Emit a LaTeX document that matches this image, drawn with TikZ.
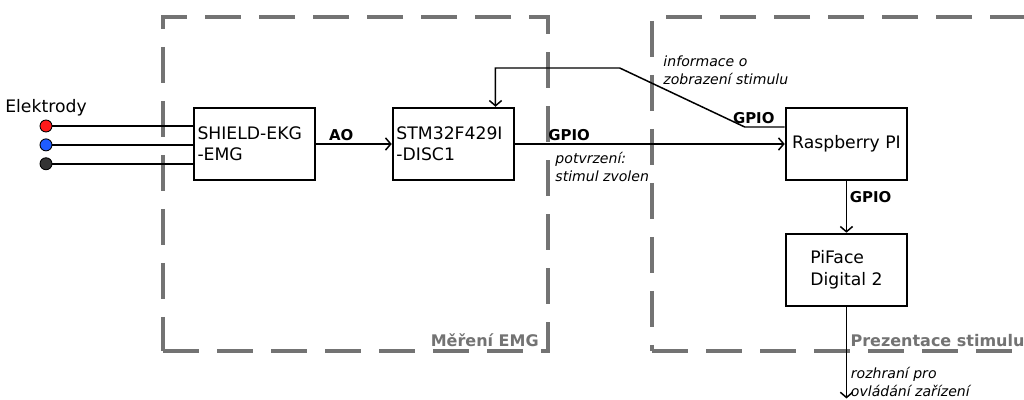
\documentclass[tikz,border=0pt]{standalone}
\usepackage{fontspec}
\setmainfont{DejaVu Sans}
\usetikzlibrary{positioning}
\usetikzlibrary{arrows.meta}
\usetikzlibrary{calc}

\definecolor{grp}{HTML}{737373}
\definecolor{elred}{HTML}{FF1A1A}
\definecolor{elblue}{HTML}{1F5CFF}
\definecolor{eldark}{HTML}{333333}

\begin{document}
\begin{tikzpicture}[
    font=\fontsize{9.8}{12.2}\selectfont,
    block/.style={rectangle, draw=black, line width=1.4pt, minimum width=2.42cm, minimum height=1.44cm, inner sep=2pt},
    group/.style={rectangle, draw=grp, line width=2.3pt, dash pattern=on 0.72cm off 0.36cm, minimum width=7.7cm, minimum height=6.68cm},
    grplbl/.style={text=grp, font=\fontsize{9.1}{11}\selectfont\bfseries, inner sep=1pt},
    pin/.style={circle, draw=black, line width=0.5pt, minimum size=0.24cm, inner sep=0pt},
    arr/.style={-{Straight Barb[length=3pt,width=7pt]}, line width=0.85pt},
    wire/.style={line width=0.85pt},
    sig/.style={font=\fontsize{8.5}{10}\selectfont\bfseries, inner sep=1.5pt},
    lbl/.style={font=\fontsize{8}{10.2}\selectfont\itshape, align=left, inner sep=1pt}
]
\useasboundingbox (0,0) rectangle (20.48,-8);

% skupiny
\node[group] (mer) at (7.11,-3.68) {};
\node[group, minimum width=7.96cm] (prez) at (17.02,-3.68) {};
\node[grplbl, anchor=base east] (merlbl) at ([xshift=-0.185cm, yshift=0.14cm]mer.south east) {Měření EMG};
\node[grplbl, anchor=base west] (prezlbl) at ([xshift=3.97cm, yshift=0.14cm]prez.south west) {Prezentace stimulu};

% bloky
\node[block, text width=2.28cm, align=left] (shield) at (5.09,-2.88) {SHIELD-EKG\\-EMG};
\node[block, text width=2.28cm, align=left, right=1.51cm of shield] (stm) {STM32F429I\\-DISC1};
\node[block, align=center, right=5.39cm of stm] (rpi) {Raspberry PI};
\node[block, align=left, below=1.03cm of rpi] (piface) {PiFace\\Digital 2};

% elektrody
\node[pin, fill=elred] (e1) at (0.92,-2.52) {};
\node[pin, fill=elblue, below=0.12cm of e1] (e2) {};
\node[pin, fill=eldark, below=0.12cm of e2] (e3) {};
\node[above=-0.06cm of e1] (elk) {Elektrody};

\draw[wire] (e1) -- (e1 -| shield.west);
\draw[wire] (e2) -- (e2 -| shield.west);
\draw[wire] (e3) -- (e3 -| shield.west);

% signaly
\draw[arr] (shield) -- node[sig, above, pos=0.33] {AO} (stm);
\draw[arr] (stm) -- node[sig, above, pos=0.2] {GPIO}
    node[lbl, below right, pos=0.14, yshift=-0.12cm] {potvrzení:\\stimul zvolen} (rpi);
\draw[arr] ([yshift=0.34cm]rpi.west) -- node[sig, above, xshift=-0.22cm] {GPIO} ++(-0.8,0)
    -- node[lbl, pos=0.67, anchor=south west] {informace o\\zobrazení stimulu} ++(-2.5,1.18)
    -| ([xshift=0.84cm]stm.north);
\draw[arr] (rpi) -- node[sig, right, pos=0.3] {GPIO} (piface);

\coordinate (out) at (piface.south |- 0,-7.97);
\draw[arr] (piface) -- node[lbl, anchor=north west, pos=0.63, xshift=0.04cm] {rozhraní pro\\ovládání zařízení} (out);

\end{tikzpicture}
\end{document}
